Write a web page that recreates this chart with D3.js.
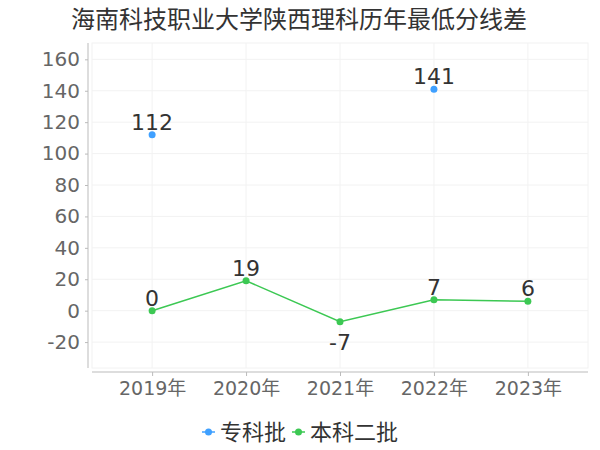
<!DOCTYPE html>
<html>
<head>
  <meta charset="utf-8">
  <title>最低分线差</title>
  <script src="https://d3js.org/d3.v7.min.js"></script>
  <style>
    body { margin: 0; background: #fff; }
    text { font-family: "DejaVu Sans", "Noto Sans CJK SC", sans-serif; }
  </style>
</head>
<body>
  <svg width="600" height="450" id="mainsvg"></svg>
  <script>
    const years = ['2019年', '2020年', '2021年', '2022年', '2023年'];
    const seriesNames = ['专科批', '本科二批'];
    const zhuanke = [112, null, null, 141, null];
    const benke2 = [0, 19, -7, 7, 6];
    const yTicks = [-20, 0, 20, 40, 60, 80, 100, 120, 140, 160];
    const colors = ['#3fa0ff', '#3cc853'];

    const svg = d3.select('#mainsvg');
    const margin = { top: 43, right: 12, bottom: 82, left: 92 };
    const width = +svg.attr('width');
    const height = +svg.attr('height');
    const innerWidth = width - margin.left - margin.right;
    const innerHeight = height - margin.top - margin.bottom;

    svg.append('text')
      .attr('x', 299).attr('y', 28)
      .attr('text-anchor', 'middle')
      .attr('font-size', '24px')
      .attr('fill', '#333')
      .text('海南科技职业大学陕西理科历年最低分线差');

    const g = svg.append('g')
      .attr('transform', `translate(${margin.left}, ${margin.top})`);

    const xScale = d3.scalePoint()
      .domain(years)
      .range([0, innerWidth])
      .padding(0.64);

    const yScale = d3.scaleLinear()
      .domain([-36.5, 170.4])
      .range([innerHeight, 0]);

    // grid
    g.append('rect')
      .attr('width', innerWidth).attr('height', innerHeight)
      .attr('fill', 'none').attr('stroke', '#f2f2f2');
    g.selectAll('.hgrid').data(yTicks).join('line')
      .attr('x1', 0).attr('x2', innerWidth)
      .attr('y1', d => yScale(d)).attr('y2', d => yScale(d))
      .attr('stroke', '#f2f2f2');
    g.selectAll('.vgrid').data(years).join('line')
      .attr('x1', d => xScale(d)).attr('x2', d => xScale(d))
      .attr('y1', 0).attr('y2', innerHeight)
      .attr('stroke', '#f2f2f2');

    // y axis (plain hyphen for negatives, like the original)
    const yAxis = d3.axisLeft(yScale).tickValues(yTicks)
      .tickFormat(d => String(d)).tickSize(3).tickPadding(5);
    const yAxisGroup = g.append('g')
      .attr('transform', 'translate(-4,0)')
      .call(yAxis);
    yAxisGroup.select('.domain').attr('stroke', '#bbb').attr('d', `M0,0V${innerHeight}`);
    yAxisGroup.selectAll('.tick line').attr('stroke', '#bbb');
    yAxisGroup.selectAll('.tick text')
      .attr('font-size', '20px').attr('fill', '#666')
      .attr('font-family', '"DejaVu Sans", sans-serif');

    // x axis
    const xAxis = d3.axisBottom(xScale).tickSize(4).tickPadding(6);
    const xAxisGroup = g.append('g')
      .attr('transform', `translate(0, ${innerHeight + 4})`)
      .call(xAxis);
    xAxisGroup.select('.domain').attr('stroke', '#bbb').attr('d', `M0,0H${innerWidth}`);
    xAxisGroup.selectAll('.tick line').attr('stroke', '#bbb');
    xAxisGroup.selectAll('.tick text')
      .attr('font-size', '19px').attr('fill', '#666')
      .attr('font-family', '"DejaVu Sans", "Noto Sans CJK SC", sans-serif');

    const series = [zhuanke, benke2];
    series.forEach((vals, i) => {
      const pts = years.map((y, j) => ({ year: y, value: vals[j] }));
      const line = d3.line()
        .defined(d => d.value !== null)
        .x(d => xScale(d.year))
        .y(d => yScale(d.value));
      g.append('path')
        .datum(pts)
        .attr('d', line)
        .attr('fill', 'none')
        .attr('stroke', colors[i])
        .attr('stroke-width', 1.5);
      const valid = pts.filter(d => d.value !== null);
      g.selectAll(null).data(valid).join('circle')
        .attr('cx', d => xScale(d.year))
        .attr('cy', d => yScale(d.value))
        .attr('r', 3.5)
        .attr('fill', colors[i]);
      g.selectAll(null).data(valid).join('text')
        .attr('x', d => xScale(d.year))
        .attr('y', d => d.value < 0 ? yScale(d.value) + 28 : yScale(d.value) - 5)
        .attr('text-anchor', 'middle')
        .attr('font-size', '22px')
        .attr('fill', '#333')
        .text(d => d.value);
    });

    // legend
    const legendX = [202, 292];
    seriesNames.forEach((name, i) => {
      const lg = svg.append('g').attr('transform', `translate(${legendX[i]}, 432)`);
      lg.append('line').attr('x1', 0).attr('x2', 13).attr('y1', 0).attr('y2', 0)
        .attr('stroke', colors[i]).attr('stroke-width', 1.5);
      lg.append('circle').attr('cx', 6.5).attr('cy', 0).attr('r', 3.5).attr('fill', colors[i]);
      lg.append('text').attr('x', 18).attr('y', 8)
        .attr('font-size', '22px').attr('fill', '#333')
        .text(name);
    });
  </script>
</body>
</html>
